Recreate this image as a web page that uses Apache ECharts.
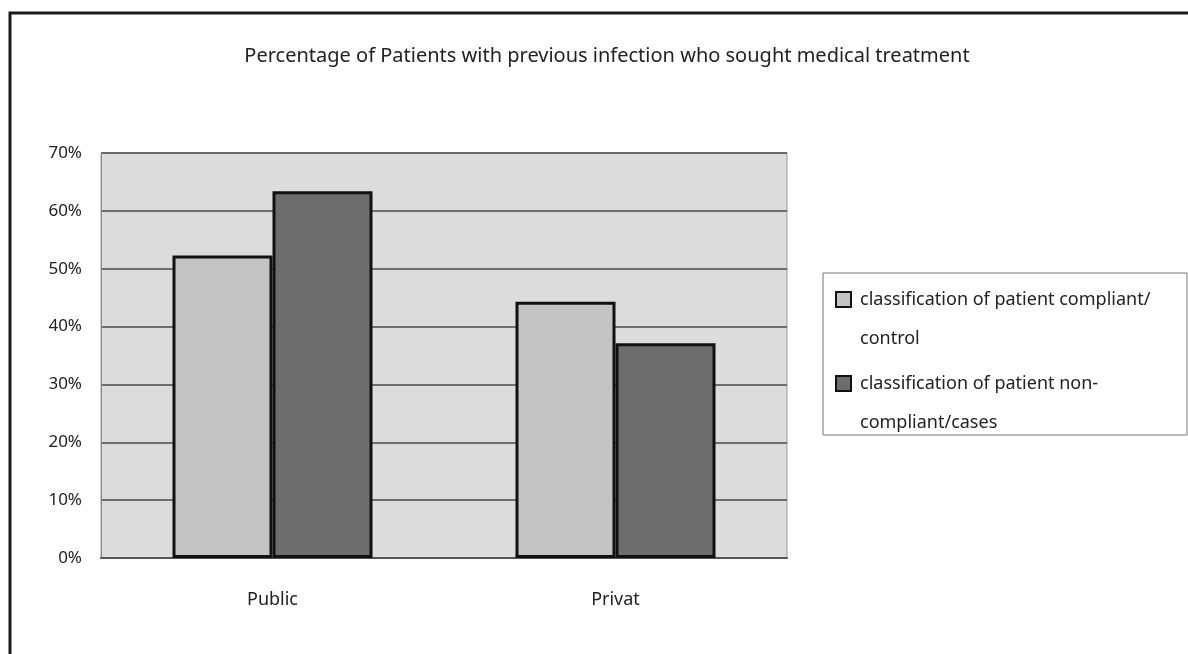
<!DOCTYPE html>
<html>
<head>
<meta charset="utf-8">
<script src="https://cdn.jsdelivr.net/npm/echarts@6/dist/echarts.min.js"></script>
<style>
  html, body { margin: 0; padding: 0; background: #fff; }
  #chart { width: 1188px; height: 654px; }
</style>
</head>
<body>
<div id="chart"></div>
<script>
// Share of patients with a previous infection who sought treatment, by sector
const categories = ['Public', 'Privat'];
const seriesNames = [
  'classification of patient compliant/\ncontrol',
  'classification of patient non-\ncompliant/cases'
];
const compliantControl = [52.3, 44.3];
const nonCompliantCases = [63.4, 37.1];
const yTicks = [0, 10, 20, 30, 40, 50, 60, 70];

const FONT = '"Noto Sans", "DejaVu Sans", sans-serif';
const chart = echarts.init(document.getElementById('chart'), null, { renderer: 'canvas' });

// Each legend entry: swatch level with the first of two text lines.
// A leading empty line makes the first real line the vertical middle.
function legendEntry(name, top) {
  return {
    data: [name],
    left: 835, top: top, padding: 0,
    itemWidth: 23, itemHeight: 15,
    icon: 'path://M0,0H10V10H0Z',
    symbolKeepAspect: true,
    itemStyle: { borderColor: '#111', borderWidth: 2 },
    formatter: n => '\n' + n,
    textStyle: { fontFamily: FONT, fontSize: 18, color: '#222', lineHeight: 39 },
    z: 5
  };
}

chart.setOption({
  backgroundColor: '#ffffff',
  animation: false,
  title: {
    text: 'Percentage of Patients with previous infection who sought medical treatment',
    left: 602,
    top: 41,
    textAlign: 'center',
    textStyle: { fontFamily: FONT, fontSize: 20, fontWeight: 'normal', color: '#222' }
  },
  graphic: [
    {
      type: 'rect',
      shape: { x: 10, y: 13, width: 1200, height: 700 },
      style: { fill: 'none', stroke: '#1a1a1a', lineWidth: 3 },
      silent: true, z: 100
    },
    {
      type: 'rect',
      shape: { x: 823, y: 273, width: 364, height: 162 },
      style: { fill: '#ffffff', stroke: '#777', lineWidth: 1 },
      silent: true, z: 0
    }
  ],
  legend: [
    legendEntry(seriesNames[0], 299 - 58),
    legendEntry(seriesNames[1], 383 - 58)
  ],
  grid: {
    left: 101, top: 153, width: 686, height: 405,
    show: true,
    backgroundColor: '#dcdcdc',
    borderColor: '#9a9a9a', borderWidth: 1
  },
  xAxis: {
    type: 'category',
    data: categories,
    axisLine: { show: true, lineStyle: { color: '#555', width: 2 } },
    axisTick: { show: false },
    axisLabel: { fontFamily: FONT, fontSize: 18, color: '#222', margin: 33 }
  },
  yAxis: {
    type: 'value',
    min: 0, max: 70, interval: 10,
    axisLine: { show: true, lineStyle: { color: '#888', width: 1 } },
    axisTick: { show: false },
    axisLabel: {
      fontFamily: FONT, fontSize: 17, color: '#222', margin: 19,
      formatter: v => (yTicks.includes(v) ? v + '%' : '')
    },
    splitLine: { show: true, lineStyle: { color: '#4a4a4a', width: 1.5 } }
  },
  series: [
    {
      name: seriesNames[0],
      type: 'bar',
      data: compliantControl,
      barWidth: 100,
      barGap: '0%',
      itemStyle: { color: '#c3c3c3', borderColor: '#111', borderWidth: 3 }
    },
    {
      name: seriesNames[1],
      type: 'bar',
      data: nonCompliantCases,
      barWidth: 100,
      barGap: '0%',
      itemStyle: { color: '#6d6d6d', borderColor: '#111', borderWidth: 3 }
    }
  ]
});
</script>
</body>
</html>
